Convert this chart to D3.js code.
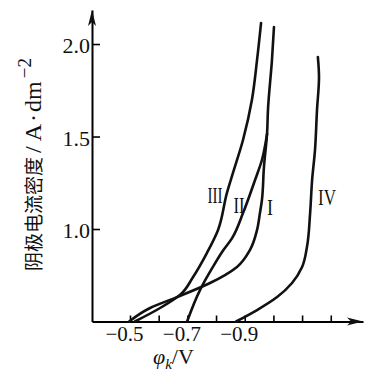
<!DOCTYPE html>
<html>
<head>
<meta charset="utf-8">
<script src="https://cdn.jsdelivr.net/npm/d3@7"></script>
<style>
  body { margin: 0; background: #fff; }
  svg { display: block; }
</style>
</head>
<body>
<svg width="385" height="376"></svg>
<script>
// DATA (potential in V, current density in A/dm^2)
const curveNames = ['I', 'II', 'III', 'IV'];

const phiI = [-0.497, -0.570, -0.664, -0.779, -0.873, -0.918, -0.943, -0.953, -0.960, -0.967, -0.978, -0.981, -0.995, -1.002];
const jI   = [0.50, 0.573, 0.632, 0.708, 0.795, 0.886, 0.995, 1.086, 1.157, 1.335, 1.519, 1.643, 1.914, 2.092];

const phiII = [-0.699, -0.744, -0.789, -0.821, -0.856, -0.894, -0.936, -0.960, -0.978];
const jII   = [0.50, 0.670, 0.795, 0.876, 0.951, 1.086, 1.265, 1.373, 1.515];

const phiIII = [-0.517, -0.605, -0.674, -0.720, -0.768, -0.807, -0.838, -0.859, -0.894, -0.925, -0.943, -0.957];
const jIII   = [0.50, 0.573, 0.643, 0.741, 0.870, 0.995, 1.195, 1.303, 1.481, 1.697, 1.914, 2.114];

const phiIV = [-0.870, -0.943, -1.013, -1.065, -1.100, -1.117, -1.128, -1.135, -1.145, -1.152, -1.159, -1.155];
const jIV   = [0.50, 0.562, 0.632, 0.708, 0.795, 0.903, 1.086, 1.265, 1.427, 1.643, 1.822, 1.930];

const xTicks = [-0.5, -0.6, -0.7, -0.8, -0.9, -1.0, -1.1, -1.2];
const xTickLabels = ['−0.5', '', '−0.7', '', '−0.9', '', '', ''];
const yTicks = [1.0, 1.5, 2.0];
const yTickLabels = ['1.0', '1.5', '2.0'];

const series = [
  {name: curveNames[0], phi: phiI, j: jI},
  {name: curveNames[1], phi: phiII, j: jII},
  {name: curveNames[2], phi: phiIII, j: jIII},
  {name: curveNames[3], phi: phiIV, j: jIV}
];

// where the curve numbers sit (in data units)
const labelAt = {
  'I':   [-0.988, 1.119],
  'II':  [-0.880, 1.130],
  'III': [-0.796, 1.184],
  'IV':  [-1.187, 1.173]
};

const svg = d3.select('svg');
const serif = '"Liberation Serif", "DejaVu Serif", serif';

const xScale = d3.scaleLinear().domain([-0.3675, -1.3124]).range([92, 363]);
const yScale = d3.scaleLinear().domain([0.5, 2.184]).range([321.5, 10]);

const x0 = xScale.range()[0];
const y0 = yScale.range()[0];

// x axis
const gX = svg.append('g')
  .attr('transform', `translate(0,${y0})`)
  .call(d3.axisBottom(xScale)
    .tickValues(xTicks)
    .tickSize(-6)
    .tickSizeOuter(0)
    .tickPadding(4)
    .tickFormat((d, i) => xTickLabels[i]));

gX.select('.domain').attr('stroke-width', 2);
gX.selectAll('.tick line').attr('stroke-width', 1.6);
gX.selectAll('.tick text')
  .attr('font-family', serif)
  .attr('font-size', 21)
  .attr('fill', '#111')
  .attr('dx', -6)
  .attr('dy', '0.72em');

// y axis
const gY = svg.append('g')
  .attr('transform', `translate(${x0},0)`)
  .call(d3.axisLeft(yScale)
    .tickValues(yTicks)
    .tickSize(-8)
    .tickSizeOuter(0)
    .tickPadding(3)
    .tickFormat((d, i) => yTickLabels[i]));

gY.select('.domain').attr('stroke-width', 2);
gY.selectAll('.tick line').attr('stroke-width', 1.6);
gY.selectAll('.tick text')
  .attr('font-family', serif)
  .attr('font-size', 22)
  .attr('fill', '#111')
  .attr('x', -2)
  .attr('dy', '0.4em');

// arrow heads
const xEnd = xScale.range()[1];
const yEnd = yScale.range()[1];
svg.append('path')
  .attr('d', `M${xEnd},${y0} L${xEnd - 16},${y0 - 4} L${xEnd - 12},${y0} L${xEnd - 16},${y0 + 4} Z`)
  .attr('fill', '#111');
svg.append('path')
  .attr('d', `M${x0},${yEnd} L${x0 - 4},${yEnd + 16} L${x0},${yEnd + 12} L${x0 + 4},${yEnd + 16} Z`)
  .attr('fill', '#111');

// curves
const lineGenerator = d3.line()
  .x(d => xScale(d[0]))
  .y(d => yScale(d[1]))
  .curve(d3.curveMonotoneY);

svg.append('g').selectAll('path')
  .data(series)
  .enter().append('path')
  .attr('d', s => lineGenerator(s.phi.map((p, i) => [p, s.j[i]])))
  .attr('fill', 'none')
  .attr('stroke', '#111')
  .attr('stroke-width', 2.6)
  .attr('stroke-linecap', 'round')
  .attr('stroke-linejoin', 'round');

// curve numbers
const numWidth = {'I': 6, 'II': 11, 'III': 15, 'IV': 18};
svg.append('g').selectAll('text')
  .data(series)
  .enter().append('text')
  .attr('x', s => xScale(labelAt[s.name][0]))
  .attr('y', s => yScale(labelAt[s.name][1]))
  .attr('dy', '0.35em')
  .attr('text-anchor', 'middle')
  .attr('font-family', serif)
  .attr('font-size', 23)
  .attr('fill', '#111')
  .attr('textLength', s => numWidth[s.name])
  .attr('lengthAdjust', 'spacingAndGlyphs')
  .text(s => s.name);

// axis titles
const xTitle = svg.append('text')
  .attr('x', 153)
  .attr('y', 364)
  .attr('font-family', serif)
  .attr('font-size', 22)
  .attr('fill', '#111');
xTitle.append('tspan').attr('font-style', 'italic').text('φ');
xTitle.append('tspan').attr('font-style', 'italic').attr('font-size', 15).attr('dy', 5).text('k');
xTitle.append('tspan').attr('dy', -5).text('/V');

const yTitle = svg.append('text')
  .attr('transform', 'translate(41,271) rotate(-90)')
  .attr('fill', '#111')
  .attr('font-family', serif)
  .attr('font-size', 24);
yTitle.append('tspan')
  .attr('font-family', '"Noto Sans CJK SC", sans-serif')
  .attr('font-size', 19)
  .text('阴极电流密度');
yTitle.append('tspan').attr('dx', 4).text('/');
yTitle.append('tspan').attr('dx', 5).text('A');
yTitle.append('tspan').attr('dx', 2).text('·');
yTitle.append('tspan').attr('dx', 2).text('dm');
yTitle.append('tspan')
  .attr('font-size', 19)
  .attr('dx', 3)
  .attr('dy', -10)
  .text('−2');
</script>
</body>
</html>
